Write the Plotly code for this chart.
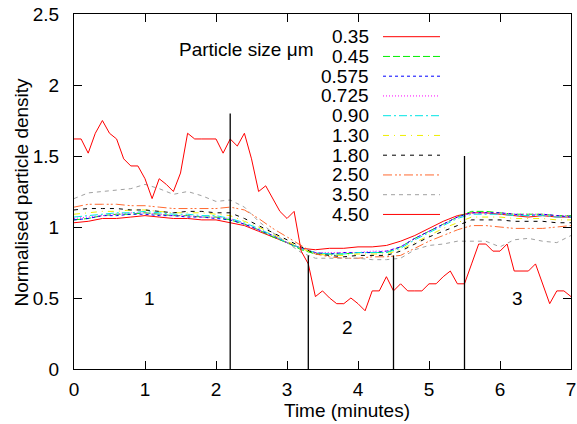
import plotly.graph_objects as go

# ---------------- data ----------------
t_fine = [round(i * 0.1, 1) for i in range(71)]
t_coarse = [round(i * 0.2, 1) for i in range(36)]

sizes = ["0.35", "0.45", "0.575", "0.725", "0.90", "1.30", "1.80", "2.50", "3.50", "4.50"]

d035 = [1.03, 1.04, 1.06, 1.06, 1.07, 1.08, 1.07, 1.06, 1.06, 1.05, 1.05, 1.03, 1.01, 0.97, 0.93, 0.89, 0.85, 0.84,
        0.85, 0.85, 0.86, 0.86, 0.87, 0.90, 0.94, 0.99, 1.04, 1.08, 1.10, 1.10, 1.09, 1.08, 1.07, 1.08, 1.07, 1.07]
d045 = [1.05, 1.06, 1.08, 1.09, 1.09, 1.10, 1.09, 1.08, 1.08, 1.07, 1.07, 1.05, 1.02, 0.98, 0.93, 0.89, 0.84, 0.81,
        0.81, 0.81, 0.82, 0.82, 0.82, 0.86, 0.92, 0.97, 1.02, 1.07, 1.11, 1.11, 1.10, 1.09, 1.09, 1.09, 1.08, 1.08]
d0575 = [1.05, 1.06, 1.08, 1.08, 1.09, 1.09, 1.08, 1.08, 1.07, 1.07, 1.06, 1.05, 1.02, 0.98, 0.94, 0.89, 0.85, 0.82,
         0.81, 0.82, 0.82, 0.82, 0.83, 0.86, 0.92, 0.97, 1.02, 1.07, 1.10, 1.10, 1.10, 1.09, 1.08, 1.09, 1.08, 1.07]
d0725 = [1.06, 1.07, 1.08, 1.09, 1.10, 1.10, 1.09, 1.08, 1.08, 1.07, 1.07, 1.06, 1.02, 0.98, 0.94, 0.89, 0.85, 0.82,
         0.82, 0.82, 0.82, 0.83, 0.83, 0.86, 0.92, 0.97, 1.02, 1.07, 1.10, 1.10, 1.10, 1.09, 1.09, 1.09, 1.08, 1.08]
d090 = [1.07, 1.08, 1.09, 1.10, 1.10, 1.11, 1.10, 1.09, 1.09, 1.08, 1.08, 1.06, 1.03, 0.99, 0.94, 0.89, 0.85, 0.82,
        0.81, 0.81, 0.82, 0.82, 0.82, 0.85, 0.91, 0.96, 1.01, 1.06, 1.09, 1.09, 1.09, 1.08, 1.08, 1.08, 1.07, 1.07]
d130 = [1.09, 1.10, 1.11, 1.11, 1.12, 1.12, 1.11, 1.10, 1.10, 1.10, 1.09, 1.08, 1.04, 1.00, 0.95, 0.90, 0.85, 0.81,
        0.80, 0.80, 0.81, 0.81, 0.81, 0.84, 0.89, 0.94, 0.99, 1.03, 1.07, 1.07, 1.07, 1.06, 1.06, 1.06, 1.05, 1.05]
d180 = [1.12, 1.13, 1.13, 1.13, 1.12, 1.12, 1.11, 1.10, 1.11, 1.11, 1.10, 1.10, 1.06, 1.01, 0.96, 0.91, 0.86, 0.81,
        0.80, 0.79, 0.80, 0.80, 0.80, 0.83, 0.88, 0.93, 0.97, 1.01, 1.05, 1.05, 1.05, 1.04, 1.04, 1.04, 1.03, 1.03]
d250 = [1.14, 1.16, 1.16, 1.16, 1.15, 1.15, 1.14, 1.13, 1.13, 1.13, 1.13, 1.14, 1.12, 1.06, 0.99, 0.93, 0.87, 0.81,
        0.79, 0.78, 0.78, 0.79, 0.79, 0.80, 0.85, 0.90, 0.94, 0.98, 1.01, 1.01, 1.00, 0.99, 0.99, 0.99, 1.00, 1.01]
d350 = [1.20, 1.24, 1.25, 1.26, 1.27, 1.30, 1.27, 1.23, 1.25, 1.22, 1.18, 1.19, 1.14, 1.04, 0.96, 0.89, 0.82, 0.78,
        0.78, 0.78, 0.78, 0.77, 0.77, 0.78, 0.84, 0.87, 0.88, 0.90, 0.90, 0.90, 0.86, 0.91, 0.92, 0.90, 0.89, 0.94]
d450 = [1.62, 1.62, 1.52, 1.66, 1.75, 1.66, 1.62, 1.48, 1.43, 1.43, 1.34, 1.20, 1.34, 1.30, 1.25, 1.38, 1.66, 1.62,
        1.62, 1.62, 1.62, 1.52, 1.62, 1.57, 1.66, 1.48, 1.25, 1.29, 1.20, 1.11, 1.06, 1.11, 0.83, 0.74, 0.51, 0.55,
        0.50, 0.46, 0.46, 0.50, 0.46, 0.41, 0.55, 0.55, 0.65, 0.55, 0.60, 0.55, 0.55, 0.55, 0.60, 0.60, 0.65, 0.69,
        0.60, 0.60, 0.74, 0.88, 0.88, 0.83, 0.83, 0.88, 0.69, 0.69, 0.69, 0.74, 0.60, 0.46, 0.55, 0.55, 0.51]

series = [d035, d045, d0575, d0725, d090, d130, d180, d250, d350, d450]

boundary_x = [2.2, 3.3, 4.5, 5.5]
boundary_top = [1.8, 0.8, 0.8, 1.5]

region_labels = ["1", "2", "3"]
region_x = [1.07, 3.85, 6.24]
region_y = [0.50, 0.29, 0.50]

x_ticks = [0, 1, 2, 3, 4, 5, 6, 7]
y_ticks = [0, 0.5, 1, 1.5, 2, 2.5]

# ---------------- styles ----------------
colors = ["#ff0000", "#00ee00", "#0000ff", "#ff00ff", "#00e5e5", "#eeee00", "#000000", "#ff6a30", "#a0a0a0", "#ff0000"]
dashes = ["solid", "7px,3px", "3px,3px", "1px,2px", "8px,3px,2px,3px", "6px,5px,1px,5px",
          "4px,5px", "9px,3px,2px,2px,2px,3px", "4px,4px", "solid"]

FONT = "Liberation Sans, Arial, Helvetica, sans-serif"
FS = 19

L, R, T, B = 74, 571, 14, 369
W, H = 577, 424


def px2x(px):
    return (px - L) / (R - L)


def py2y(py):
    return (B - py) / (B - T)


fig = go.Figure()
for i, (name, vals) in enumerate(zip(sizes, series)):
    xs = t_fine if len(vals) == len(t_fine) else t_coarse
    fig.add_trace(go.Scatter(x=xs, y=vals, mode="lines", name=name,
                             line=dict(color=colors[i], width=1, dash=dashes[i]),
                             showlegend=False, hoverinfo="skip", cliponaxis=False))

shapes = []
for bx, bt in zip(boundary_x, boundary_top):
    shapes.append(dict(type="line", xref="x", yref="y", x0=bx, x1=bx, y0=0, y1=bt,
                       line=dict(color="black", width=1.3)))

annotations = []
for lab, rx, ry in zip(region_labels, region_x, region_y):
    annotations.append(dict(text=lab, x=rx, y=ry, xref="x", yref="y", showarrow=False,
                            font=dict(family=FONT, size=FS, color="black")))

# legend (gnuplot style: right-aligned label then sample line)
row0 = 36.7
dy = 19.75
for i, name in enumerate(sizes):
    py = row0 + i * dy
    annotations.append(dict(text=name, x=px2x(371), y=py2y(py), xref="paper", yref="paper",
                            xanchor="right", yanchor="middle", showarrow=False,
                            font=dict(family=FONT, size=FS, color="black")))
    shapes.append(dict(type="line", xref="paper", yref="paper", x0=px2x(383), x1=px2x(440),
                       y0=py2y(py), y1=py2y(py),
                       line=dict(color=colors[i], width=1, dash=dashes[i])))

annotations.append(dict(text="Particle size \u03bcm", x=px2x(177), y=py2y(50), xref="paper", yref="paper",
                        xanchor="left", yanchor="middle", showarrow=False,
                        font=dict(family=FONT, size=FS, color="black")))

annotations.append(dict(text="Time (minutes)", x=px2x(347), y=py2y(410), xref="paper", yref="paper",
                        xanchor="center", yanchor="middle", showarrow=False,
                        font=dict(family=FONT, size=FS, color="black")))
annotations.append(dict(text="Normalised particle density", x=px2x(20.5), y=py2y(192), xref="paper", yref="paper",
                        xanchor="center", yanchor="middle", showarrow=False, textangle=-90,
                        font=dict(family=FONT, size=FS, color="black")))

axis_common = dict(showgrid=False, zeroline=False, showline=True, linecolor="black", linewidth=1,
                   mirror="ticks", ticks="inside", ticklen=8, tickwidth=1, tickcolor="black",
                   automargin=False,
                   tickfont=dict(family=FONT, size=FS, color="black"))

fig.update_layout(
    width=W, height=H,
    margin=dict(l=L, r=W - R, t=T, b=H - B, pad=0),
    paper_bgcolor="white", plot_bgcolor="white",
    xaxis=dict(range=[0, 7], tickvals=x_ticks, ticklabelstandoff=3, **axis_common),
    yaxis=dict(range=[0, 2.5], tickvals=y_ticks, ticklabelstandoff=10, **axis_common),
    shapes=shapes, annotations=annotations, showlegend=False,
)

fig.write_html("out.html", config={"displayModeBar": False},
               post_script="document.body.style.margin='0px';")
